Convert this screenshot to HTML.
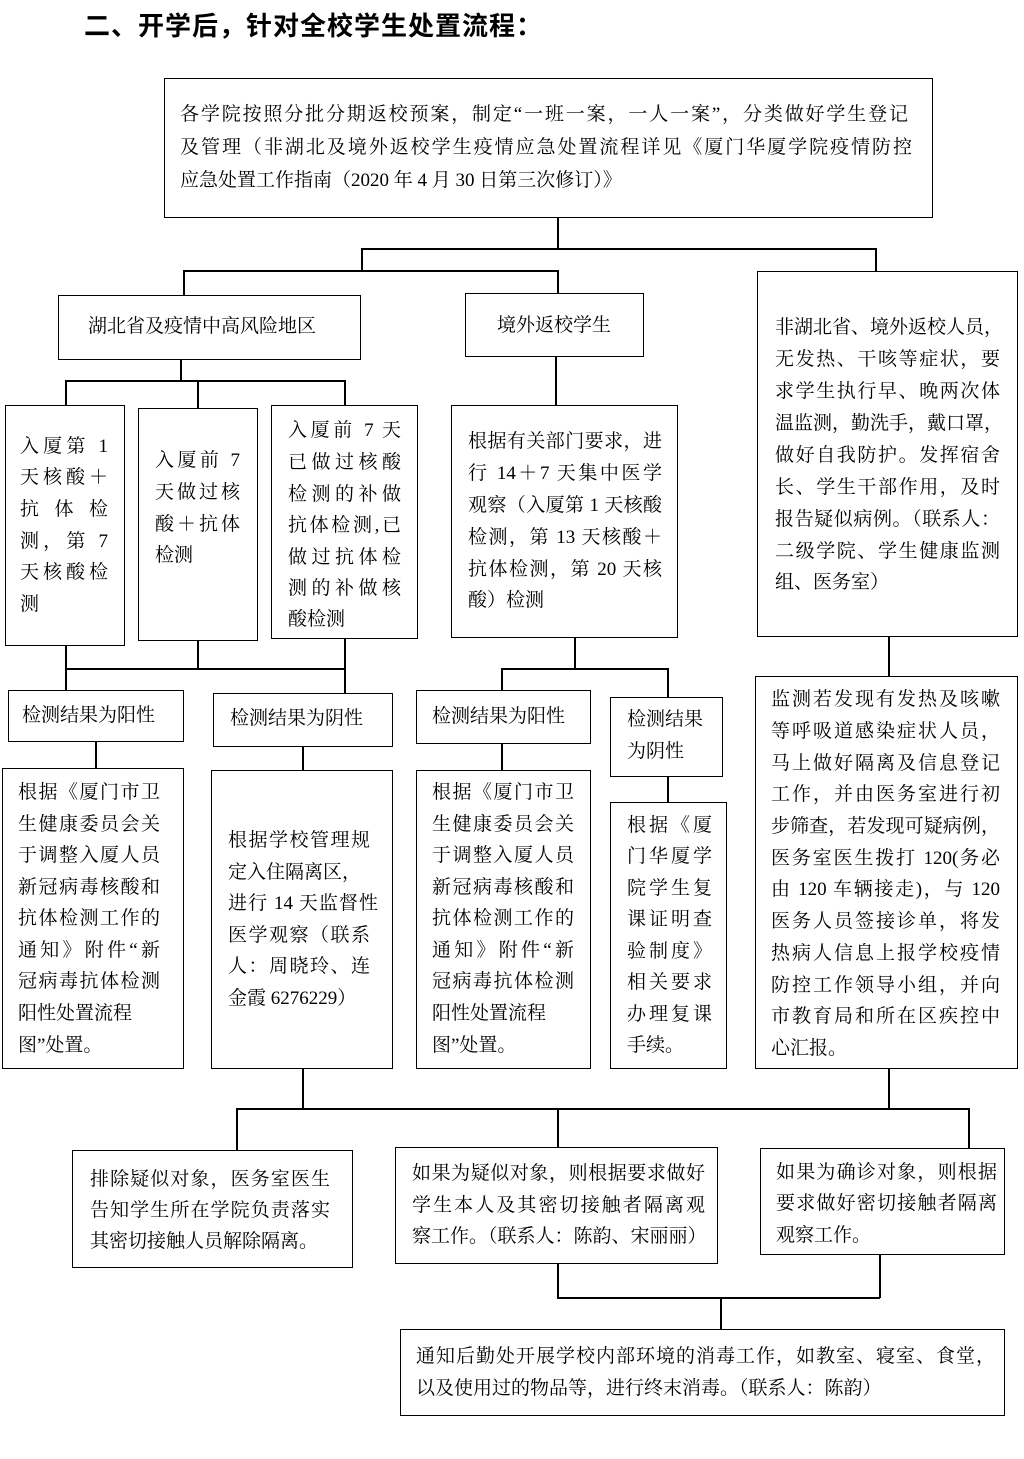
<!DOCTYPE html>
<html><head><meta charset="utf-8">
<style>
body{margin:0;background:#fff;}
#c{position:relative;width:1024px;height:1459px;overflow:hidden;font-family:"Liberation Serif","Noto Serif CJK SC",serif;font-size:19px;color:#000;}
.b{position:absolute;border:1.5px solid #000;box-sizing:border-box;}
.h{position:absolute;height:1.5px;background:#000;}
.v{position:absolute;width:1.5px;background:#000;}
.t{position:absolute;height:32px;line-height:32px;white-space:nowrap;}
.j{text-align:justify;text-align-last:justify;}
</style></head><body><div id="c">
<div style="position:absolute;left:84px;top:6px;font-family:'Liberation Sans','Noto Sans CJK SC',sans-serif;font-weight:bold;font-size:26px;letter-spacing:1px;">二、开学后，针对全校学生处置流程：</div>

<!-- boxes -->
<div class="b" style="left:164px;top:78px;width:769px;height:140px"></div>
<div class="b" style="left:58px;top:295px;width:303px;height:65px"></div>
<div class="b" style="left:465px;top:293px;width:179px;height:64px"></div>
<div class="b" style="left:757px;top:271px;width:261px;height:366px"></div>
<div class="b" style="left:5px;top:405px;width:120px;height:241px"></div>
<div class="b" style="left:138px;top:408px;width:120px;height:233px"></div>
<div class="b" style="left:271px;top:405px;width:147px;height:234px"></div>
<div class="b" style="left:451px;top:405px;width:227px;height:233px"></div>
<div class="b" style="left:8px;top:690px;width:176px;height:52px"></div>
<div class="b" style="left:213px;top:693px;width:180px;height:54px"></div>
<div class="b" style="left:416px;top:690px;width:175px;height:54px"></div>
<div class="b" style="left:610px;top:697px;width:113px;height:80px"></div>
<div class="b" style="left:2px;top:768px;width:182px;height:301px"></div>
<div class="b" style="left:211px;top:770px;width:182px;height:299px"></div>
<div class="b" style="left:416px;top:770px;width:175px;height:299px"></div>
<div class="b" style="left:610px;top:802px;width:117px;height:267px"></div>
<div class="b" style="left:755px;top:676px;width:263px;height:393px"></div>
<div class="b" style="left:72px;top:1150px;width:281px;height:118px"></div>
<div class="b" style="left:395px;top:1147px;width:323px;height:117px"></div>
<div class="b" style="left:760px;top:1148px;width:245px;height:107px"></div>
<div class="b" style="left:400px;top:1329px;width:605px;height:87px"></div>

<!-- connectors -->
<div class="v" style="left:557px;top:217px;height:32px"></div>
<div class="h" style="left:361px;top:248px;width:515px"></div>
<div class="v" style="left:875px;top:248px;height:24px"></div>
<div class="v" style="left:361px;top:248px;height:23px"></div>
<div class="h" style="left:183px;top:270px;width:375px"></div>
<div class="v" style="left:183px;top:270px;height:26px"></div>
<div class="v" style="left:557px;top:270px;height:24px"></div>
<div class="v" style="left:180px;top:359px;height:22px"></div>
<div class="h" style="left:65px;top:380px;width:280px"></div>
<div class="v" style="left:65px;top:380px;height:26px"></div>
<div class="v" style="left:197px;top:380px;height:29px"></div>
<div class="v" style="left:344px;top:380px;height:26px"></div>
<div class="v" style="left:65px;top:645px;height:46px"></div>
<div class="v" style="left:197px;top:640px;height:29px"></div>
<div class="v" style="left:344px;top:638px;height:56px"></div>
<div class="h" style="left:65px;top:668px;width:280px"></div>
<div class="v" style="left:555px;top:356px;height:50px"></div>
<div class="v" style="left:574px;top:637px;height:32px"></div>
<div class="h" style="left:501px;top:668px;width:167px"></div>
<div class="v" style="left:501px;top:668px;height:23px"></div>
<div class="v" style="left:667px;top:668px;height:30px"></div>
<div class="v" style="left:95px;top:741px;height:28px"></div>
<div class="v" style="left:302px;top:746px;height:25px"></div>
<div class="v" style="left:501px;top:743px;height:28px"></div>
<div class="v" style="left:667px;top:776px;height:27px"></div>
<div class="v" style="left:888px;top:636px;height:41px"></div>
<div class="v" style="left:302px;top:1068px;height:41px"></div>
<div class="v" style="left:888px;top:1068px;height:41px"></div>
<div class="h" style="left:236px;top:1108px;width:733px"></div>
<div class="v" style="left:236px;top:1108px;height:43px"></div>
<div class="v" style="left:557px;top:1108px;height:40px"></div>
<div class="v" style="left:968px;top:1108px;height:41px"></div>
<div class="v" style="left:557px;top:1263px;height:35px"></div>
<div class="v" style="left:879px;top:1254px;height:44px"></div>
<div class="h" style="left:557px;top:1297px;width:323px"></div>
<div class="v" style="left:720px;top:1297px;height:33px"></div>

<!-- text -->
<div class="t j" style="left:180px;top:99px;width:728px">各学院按照分批分期返校预案，制定“一班一案，一人一案”，分类做好学生登记</div>
<div class="t j" style="left:180px;top:132px;width:732px">及管理（非湖北及境外返校学生疫情应急处置流程详见《厦门华厦学院疫情防控</div>
<div class="t" style="left:180px;top:165px">应急处置工作指南（2020 年 4 月 30 日第三次修订）》</div>

<div class="t" style="left:88px;top:311px">湖北省及疫情中高风险地区</div>
<div class="t" style="left:497px;top:310px">境外返校学生</div>

<div class="t j" style="left:775px;top:312px;width:225px">非湖北省、境外返校人员，</div>
<div class="t j" style="left:775px;top:344px;width:225px">无发热、干咳等症状，要</div>
<div class="t j" style="left:775px;top:376px;width:225px">求学生执行早、晚两次体</div>
<div class="t j" style="left:775px;top:408px;width:225px">温监测，勤洗手，戴口罩，</div>
<div class="t j" style="left:775px;top:440px;width:225px">做好自我防护。发挥宿舍</div>
<div class="t j" style="left:775px;top:472px;width:225px">长、学生干部作用，及时</div>
<div class="t j" style="left:775px;top:504px;width:225px">报告疑似病例。（联系人：</div>
<div class="t j" style="left:775px;top:536px;width:225px">二级学院、学生健康监测</div>
<div class="t" style="left:775px;top:567px">组、医务室）</div>

<div class="t j" style="left:20px;top:431px;width:88px">入厦第 1</div>
<div class="t j" style="left:20px;top:462px;width:88px">天核酸＋</div>
<div class="t j" style="left:20px;top:494px;width:88px">抗体检</div>
<div class="t j" style="left:20px;top:526px;width:88px">测，第 7</div>
<div class="t j" style="left:20px;top:557px;width:88px">天核酸检</div>
<div class="t" style="left:20px;top:589px">测</div>

<div class="t j" style="left:155px;top:445px;width:85px">入厦前 7</div>
<div class="t j" style="left:155px;top:477px;width:85px">天做过核</div>
<div class="t j" style="left:155px;top:509px;width:85px">酸＋抗体</div>
<div class="t" style="left:155px;top:540px">检测</div>

<div class="t j" style="left:288px;top:415px;width:113px">入厦前 7 天</div>
<div class="t j" style="left:288px;top:447px;width:113px">已做过核酸</div>
<div class="t j" style="left:288px;top:479px;width:113px">检测的补做</div>
<div class="t j" style="left:288px;top:510px;width:113px">抗体检测,已</div>
<div class="t j" style="left:288px;top:542px;width:113px">做过抗体检</div>
<div class="t j" style="left:288px;top:573px;width:113px">测的补做核</div>
<div class="t" style="left:288px;top:604px">酸检测</div>

<div class="t j" style="left:468px;top:426px;width:194px">根据有关部门要求，进</div>
<div class="t j" style="left:468px;top:458px;width:194px">行 14＋7 天集中医学</div>
<div class="t j" style="left:468px;top:490px;width:194px">观察（入厦第 1 天核酸</div>
<div class="t j" style="left:468px;top:522px;width:194px">检测，第 13 天核酸＋</div>
<div class="t j" style="left:468px;top:554px;width:194px">抗体检测，第 20 天核</div>
<div class="t" style="left:468px;top:585px">酸）检测</div>

<div class="t" style="left:22px;top:700px">检测结果为阳性</div>
<div class="t" style="left:230px;top:703px">检测结果为阴性</div>
<div class="t" style="left:432px;top:701px">检测结果为阳性</div>
<div class="t" style="left:627px;top:704px">检测结果</div>
<div class="t" style="left:627px;top:736px">为阴性</div>

<div class="t j" style="left:18px;top:777px;width:142px">根据《厦门市卫</div>
<div class="t j" style="left:18px;top:809px;width:142px">生健康委员会关</div>
<div class="t j" style="left:18px;top:840px;width:142px">于调整入厦人员</div>
<div class="t j" style="left:18px;top:872px;width:142px">新冠病毒核酸和</div>
<div class="t j" style="left:18px;top:903px;width:142px">抗体检测工作的</div>
<div class="t j" style="left:18px;top:935px;width:142px">通知》附件“新</div>
<div class="t j" style="left:18px;top:966px;width:142px">冠病毒抗体检测</div>
<div class="t" style="left:18px;top:998px">阳性处置流程</div>
<div class="t" style="left:18px;top:1030px">图”处置。</div>

<div class="t j" style="left:228px;top:825px;width:142px">根据学校管理规</div>
<div class="t" style="left:228px;top:857px">定入住隔离区，</div>
<div class="t j" style="left:228px;top:888px;width:150px">进行 14 天监督性</div>
<div class="t j" style="left:228px;top:920px;width:142px">医学观察（联系</div>
<div class="t j" style="left:228px;top:951px;width:142px">人：周晓玲、连</div>
<div class="t" style="left:228px;top:983px">金霞 6276229）</div>

<div class="t j" style="left:432px;top:777px;width:142px">根据《厦门市卫</div>
<div class="t j" style="left:432px;top:809px;width:142px">生健康委员会关</div>
<div class="t j" style="left:432px;top:840px;width:142px">于调整入厦人员</div>
<div class="t j" style="left:432px;top:872px;width:142px">新冠病毒核酸和</div>
<div class="t j" style="left:432px;top:903px;width:142px">抗体检测工作的</div>
<div class="t j" style="left:432px;top:935px;width:142px">通知》附件“新</div>
<div class="t j" style="left:432px;top:966px;width:142px">冠病毒抗体检测</div>
<div class="t" style="left:432px;top:998px">阳性处置流程</div>
<div class="t" style="left:432px;top:1030px">图”处置。</div>

<div class="t j" style="left:627px;top:810px;width:85px">根据《厦</div>
<div class="t j" style="left:627px;top:841px;width:85px">门华厦学</div>
<div class="t j" style="left:627px;top:873px;width:85px">院学生复</div>
<div class="t j" style="left:627px;top:904px;width:85px">课证明查</div>
<div class="t j" style="left:627px;top:936px;width:85px">验制度》</div>
<div class="t j" style="left:627px;top:967px;width:85px">相关要求</div>
<div class="t j" style="left:627px;top:999px;width:85px">办理复课</div>
<div class="t" style="left:627px;top:1030px">手续。</div>

<div class="t j" style="left:771px;top:684px;width:229px">监测若发现有发热及咳嗽</div>
<div class="t j" style="left:771px;top:716px;width:229px">等呼吸道感染症状人员，</div>
<div class="t j" style="left:771px;top:748px;width:229px">马上做好隔离及信息登记</div>
<div class="t j" style="left:771px;top:779px;width:229px">工作，并由医务室进行初</div>
<div class="t j" style="left:771px;top:811px;width:229px">步筛查，若发现可疑病例，</div>
<div class="t j" style="left:771px;top:843px;width:229px">医务室医生拨打 120(务必</div>
<div class="t j" style="left:771px;top:874px;width:229px">由 120 车辆接走)，与 120</div>
<div class="t j" style="left:771px;top:906px;width:229px">医务人员签接诊单，将发</div>
<div class="t j" style="left:771px;top:938px;width:229px">热病人信息上报学校疫情</div>
<div class="t j" style="left:771px;top:970px;width:229px">防控工作领导小组，并向</div>
<div class="t j" style="left:771px;top:1001px;width:229px">市教育局和所在区疾控中</div>
<div class="t" style="left:771px;top:1033px">心汇报。</div>

<div class="t j" style="left:90px;top:1164px;width:240px">排除疑似对象，医务室医生</div>
<div class="t j" style="left:90px;top:1195px;width:240px">告知学生所在学院负责落实</div>
<div class="t" style="left:90px;top:1226px">其密切接触人员解除隔离。</div>

<div class="t j" style="left:412px;top:1158px;width:293px">如果为疑似对象，则根据要求做好</div>
<div class="t j" style="left:412px;top:1190px;width:293px">学生本人及其密切接触者隔离观</div>
<div class="t" style="left:412px;top:1221px">察工作。（联系人：陈韵、宋丽丽）</div>

<div class="t j" style="left:776px;top:1157px;width:221px">如果为确诊对象，则根据</div>
<div class="t j" style="left:776px;top:1188px;width:221px">要求做好密切接触者隔离</div>
<div class="t" style="left:776px;top:1220px">观察工作。</div>

<div class="t j" style="left:416px;top:1341px;width:579px">通知后勤处开展学校内部环境的消毒工作，如教室、寝室、食堂，</div>
<div class="t" style="left:416px;top:1373px">以及使用过的物品等，进行终末消毒。（联系人：陈韵）</div>
</div></body></html>
